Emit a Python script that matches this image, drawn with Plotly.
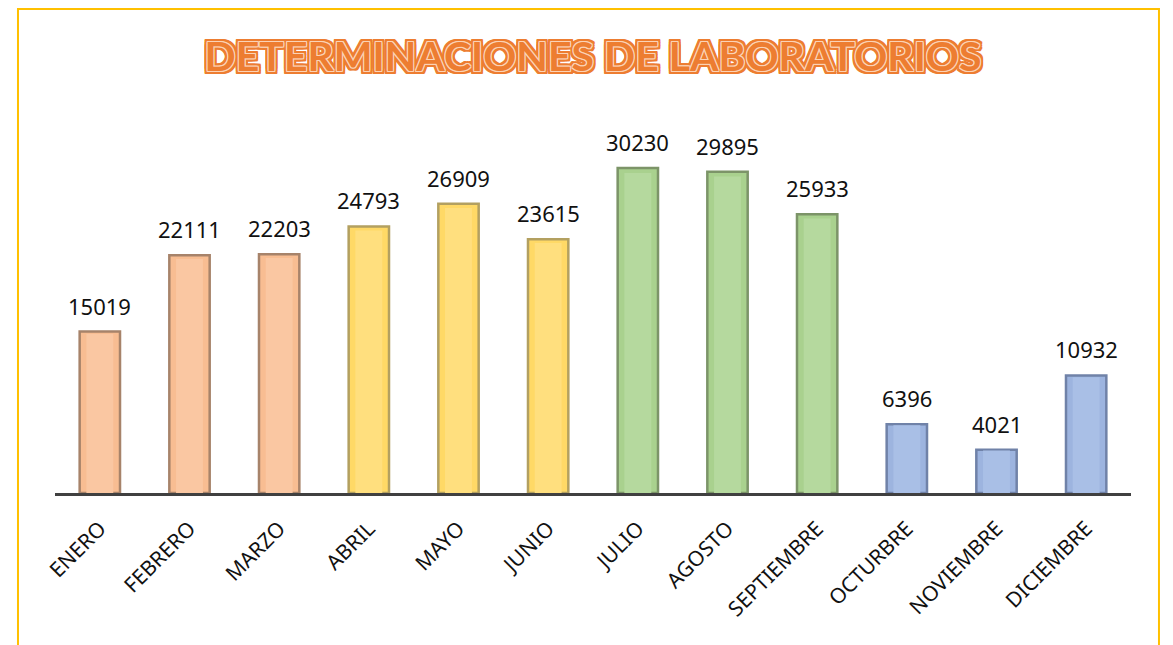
import plotly.graph_objects as go

months = ["ENERO", "FEBRERO", "MARZO", "ABRIL", "MAYO", "JUNIO", "JULIO",
          "AGOSTO", "SEPTIEMBRE", "OCTURBRE", "NOVIEMBRE", "DICIEMBRE"]
values = [15019, 22111, 22203, 24793, 26909, 23615, 30230, 29895, 25933, 6396, 4021, 10932]
fill_colors = ["#F8BD92"] * 3 + ["#FFD966"] * 3 + ["#A9D18E"] * 3 + ["#9DB4DF"] * 3
edge_colors = ["#A7836A"] * 3 + ["#B3A060"] * 3 + ["#7C9468"] * 3 + ["#7082A8"] * 3
inner_colors = ["#FAC7A2"] * 3 + ["#FFDF7E"] * 3 + ["#B5D99E"] * 3 + ["#A9BFE6"] * 3
title_text = "DETERMINACIONES DE LABORATORIOS"

fig = go.Figure()
fig.add_trace(go.Bar(
    x=months, y=values, width=0.45,
    marker=dict(color=fill_colors, line=dict(color=edge_colors, width=2.5)),
    hoverinfo="x+y",
))
fig.add_trace(go.Bar(
    x=months, y=[v * 0.985 for v in values], width=0.3,
    marker=dict(color=inner_colors, line=dict(width=0)),
    hoverinfo="skip",
))

for m, v in zip(months, values):
    fig.add_annotation(
        x=m, y=v, text=str(v), showarrow=False,
        xanchor="center", yanchor="bottom", yshift=9,
        font=dict(family="Noto Sans, Open Sans, sans-serif", size=22, color="#111111"),
    )

light = "#FBD3B6"
ol = "#ED7D31"
shadow_light = [f"{dx}px {dy}px 0 {light}" for dx in (-1, 0, 1) for dy in (-1, 0, 1) if (dx, dy) != (0, 0)]
shadow_orange = [f"{dx}px {dy}px 0 {ol}" for dx in (-3, -2, 0, 2, 3) for dy in (-3, -2, 0, 2, 3) if (dx, dy) != (0, 0)]
shadow = ", ".join(shadow_light + shadow_orange)

fig.update_layout(
    width=1173, height=645,
    barmode="overlay",
    showlegend=False,
    paper_bgcolor="white", plot_bgcolor="white",
    margin=dict(l=47, r=50, t=112, b=160, autoexpand=False),
    title=dict(
        text=f"<b>{title_text}</b>",
        x=0.5, xanchor="center", xref="paper",
        y=1 - 49 / 645, yref="container", yanchor="middle",
        font=dict(family="Lato, sans-serif", size=41, color=ol, shadow=shadow),
    ),
    xaxis=dict(
        showline=True, linecolor="#404040", linewidth=3,
        tickangle=-45, ticks="", showgrid=False, automargin=False,
        ticklabelstandoff=12,
        tickfont=dict(family="Noto Sans, Open Sans, sans-serif", size=21, color="#111111"),
    ),
    yaxis=dict(visible=False, range=[0, 34700], showgrid=False, zeroline=False, automargin=False),
    shapes=[dict(
        type="rect", xref="paper", yref="paper",
        x0=-0.0344, x1=1.026, y0=-0.45, y1=1.2976,
        line=dict(color="#FFC000", width=2), fillcolor="rgba(0,0,0,0)", layer="below",
    )],
)

fig.write_html("out.html")
